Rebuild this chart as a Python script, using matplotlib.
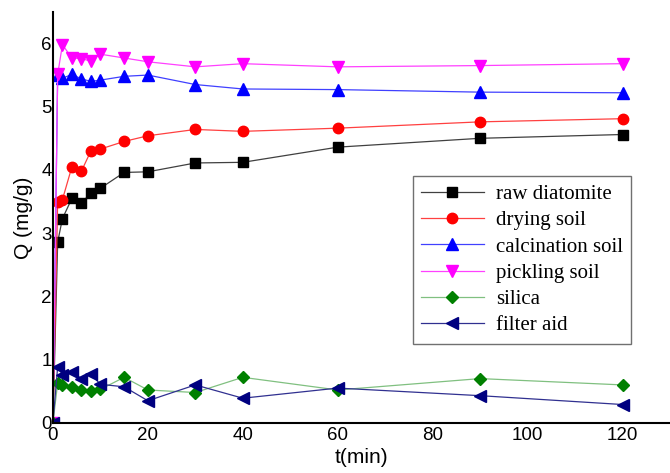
"""
Adsorption capacity Q vs contact time for the different diatomite samples.
"""
import matplotlib
matplotlib.use('Agg')
import matplotlib.pyplot as plt

t = [0, 1, 2, 4, 6, 8, 10, 15, 20, 30, 40, 60, 90, 120]

raw_diatomite = [0, 2.86, 3.23, 3.55, 3.47, 3.64, 3.71, 3.96, 3.97, 4.11, 4.12, 4.36, 4.50, 4.56]
drying_soil = [0, 3.50, 3.53, 4.05, 3.98, 4.30, 4.33, 4.45, 4.54, 4.64, 4.61, 4.66, 4.76, 4.81]
calcination_soil = [0, 5.50, 5.45, 5.51, 5.44, 5.40, 5.42, 5.48, 5.50, 5.35, 5.28, 5.27, 5.23, 5.22]
pickling_soil = [0, 5.51, 5.98, 5.77, 5.76, 5.72, 5.83, 5.77, 5.71, 5.63, 5.68, 5.63, 5.65, 5.68]
silica = [0, 0.63, 0.60, 0.57, 0.52, 0.51, 0.53, 0.72, 0.52, 0.48, 0.72, 0.52, 0.70, 0.60]
filter_aid = [0, 0.89, 0.76, 0.81, 0.70, 0.77, 0.61, 0.57, 0.35, 0.60, 0.39, 0.55, 0.43, 0.29]

labels = ['raw diatomite', 'drying soil', 'calcination soil', 'pickling soil', 'silica', 'filter aid']
series = [raw_diatomite, drying_soil, calcination_soil, pickling_soil, silica, filter_aid]
markers = ['s', 'o', '^', 'v', 'D', '<']
marker_colors = ['black', 'red', 'blue', 'magenta', 'green', 'navy']
line_colors = ['#404040', '#ff4040', '#4040ff', '#ff40ff', '#80c080', '#303090']
marker_sizes = [6.5, 7.5, 8, 8, 6.5, 8]

fig = plt.figure(figsize=(6.7, 4.73), dpi=100)
ax = fig.add_axes([0.079, 0.106, 0.921, 0.869])

for y, lab, m, mc, lc, ms in zip(series, labels, markers, marker_colors, line_colors, marker_sizes):
    ax.plot(t, y, color=lc, lw=0.9, marker=m, ms=ms,
            markerfacecolor=mc, markeredgecolor=mc, label=lab)

ax.set_xlim(0, 130)
ax.set_ylim(0, 6.5)
ax.set_xticks([0, 20, 40, 60, 80, 100, 120])
ax.set_yticks([0, 1, 2, 3, 4, 5, 6])
for side in ['top', 'right']:
    ax.spines[side].set_visible(False)
for side in ['left', 'bottom']:
    ax.spines[side].set_linewidth(1.5)
ax.tick_params(length=0, labelsize=13.5)
ax.tick_params(axis='x', pad=3)
ax.tick_params(axis='y', pad=1)
for lbl in ax.get_xticklabels() + ax.get_yticklabels():
    lbl.set_family('Liberation Sans')

ax.set_xlabel('t(min)', fontsize=15, family='Liberation Sans', labelpad=3)
ax.set_ylabel('Q (mg/g)', fontsize=15, family='Liberation Sans', labelpad=6)

leg = ax.legend(loc='upper left', bbox_to_anchor=(0.583, 0.6), borderaxespad=0,
                prop={'family': 'Liberation Serif', 'size': 15}, fancybox=False,
                handlelength=3, handletextpad=0.6, labelspacing=0.32, framealpha=1)
leg.get_frame().set_edgecolor('#707070')
leg.get_frame().set_linewidth(1)

plt.savefig('out.png', dpi=100)
